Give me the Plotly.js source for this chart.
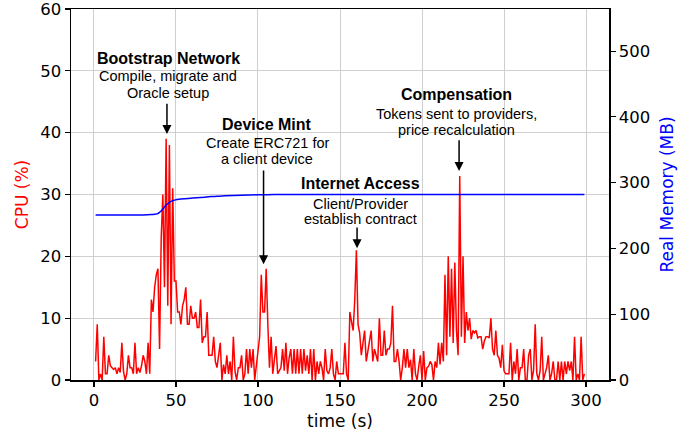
<!DOCTYPE html>
<html><head><meta charset="utf-8">
<script src="https://cdn.plot.ly/plotly-3.0.1.min.js"></script>
<style>html,body{margin:0;padding:0;background:#fff;} #chart{width:699px;height:436px;}</style>
</head><body><div id="chart"></div>
<script>
// CPU usage sampled every second starting at t = 1 s
const cpuStart = 1;
const cpuStep = 1;
const cpuPercent = [
  3, 9, 0, 1, 0, 7, 1, 1, 4, 2.3,
  2, 1.7, 2, 1, 2, 1.2, 6, 1.4, 0, 1,
  4, 2, 2, 1, 6, 1, 2, 1.2, 2.3, 4,
  3, 1, 6, 1, 13, 11, 15, 17, 18, 5,
  23, 30, 15, 39, 12, 38, 9, 31, 16, 16,
  11, 11, 9, 12, 13, 15, 9, 9, 12, 10,
  10, 11, 8.5, 8.5, 13, 6, 7, 7, 11, 4,
  4, 4, 7, 3, 2, 4, 6, 0, 2.5, 1,
  4, 1, 3, 0, 7, 1.4, 0, 2, 2, 4,
  0, 1, 5, 1, 5, 2, 5, 0, 2.5, 4.7,
  7, 17, 11, 11, 18, 9, 2, 7, 1, 3.3,
  5.5, 1, 1.5, 2, 5, 1.5, 6, 1, 3.6, 5,
  1, 5, 1, 5, 1, 5, 1, 5, 1.5, 4,
  1, 5, 0, 5, 0, 3, 1, 3, 2, 0,
  5, 1.5, 1, 2, 5, 1, 0, 3, 1, 1,
  1, 1, 6, 1, 0, 11, 9.5, 8, 13, 21,
  9, 7.6, 4, 6, 8, 3, 4.7, 7, 8, 3,
  5, 4, 3, 10, 4, 4, 8, 4, 5, 5,
  6, 12, 3, 3, 5, 3, 0, 2, 5, 2,
  5, 2, 3.3, 0, 5, 1, 0, 2.2, 4, 0,
  4.7, 0, 2, 2.2, 3, 2.5, 0, 3, 2, 6,
  2.5, 6, 3, 17, 4, 20, 7, 18, 6, 19,
  8, 4, 33, 7, 20, 6, 11, 8, 10, 6.6,
  8, 7.6, 8, 6.8, 7, 7, 5, 6.3, 7, 7,
  6.8, 10, 5, 4, 8, 4, 3.5, 2, 5.7, 1.5,
  1, 1, 1, 6, 0, 3, 1, 5, 0, 2,
  2, 5, 0, 0, 4, 5, 0, 1.5, 9, 1,
  0, 1.5, 7, 0, 1, 2, 4, 0, 1, 3,
  0, 0, 3, 0, 3, 0, 3, 1, 3, 1.5,
  3, 0, 7, 0, 1, 0, 7, 0, 1
];

// Real memory (MB)
const memTime = [1, 10, 20, 30, 35, 37, 39, 40, 41, 42, 43, 44, 45, 46, 47, 48, 50, 55, 60, 65, 70, 75, 80, 90, 100, 110, 120, 150, 200, 250, 299];
const memMB   = [251, 251, 251, 251, 251.5, 252, 253, 255, 257, 260, 263, 266, 268, 270, 271.5, 272.5, 274, 275.5, 276.5, 277.5, 278.5, 279.5, 280, 281, 281.5, 282, 282, 282, 282, 282, 282];

const xTicks = [0, 50, 100, 150, 200, 250, 300];
const cpuTicks = [0, 10, 20, 30, 40, 50, 60];
const memTicks = [0, 100, 200, 300, 400, 500];

// Event labels
const eventTitles = ['Bootstrap Network', 'Device Mint', 'Internet Access', 'Compensation'];
const eventLines = [
  ['Compile, migrate and', 'Oracle setup'],
  ['Create ERC721 for', 'a client device'],
  ['Client/Provider', 'establish contract'],
  ['Tokens sent to providers,', 'price recalculation']
];

// layout placement of event labels (data coords)
const eventPlace = [
  {x: 45.3, ty: 52.0, ly: [49.2, 46.45], ax: 44.5, tip: 39.8, tail: 45.0},
  {x: 105.7, ty: 41.3, ly: [38.4, 35.8], ax: 103.4, tip: 18.7, tail: 34.2},
  {x: 162.4, ty: 31.7, ly: [28.5, 26.0], ax: 160.4, tip: 21.3, tail: 25.0},
  {x: 221.3, ty: 46.2, ly: [43.0, 40.5], ax: 222.6, tip: 33.8, tail: 39.1}
];

const annFont = 'Liberation Sans, Arial, Helvetica, sans-serif';
const annotations = [];
eventTitles.forEach((title, i) => {
  const p = eventPlace[i];
  annotations.push({x: p.x, y: p.ty, xref: 'x', yref: 'y', text: '<b>' + title + '</b>', showarrow: false,
    xanchor: 'center', yanchor: 'middle', font: {family: annFont, size: 16, color: '#000'}});
  eventLines[i].forEach((ln, j) => {
    annotations.push({x: p.x, y: p.ly[j], xref: 'x', yref: 'y', text: ln, showarrow: false,
      xanchor: 'center', yanchor: 'middle', font: {family: annFont, size: 14.5, color: '#000'}});
  });
  annotations.push({x: p.ax, y: p.tip, ax: p.ax, ay: p.tail, xref: 'x', yref: 'y', axref: 'x', ayref: 'y',
    text: ' ', font: {size: 1}, showarrow: true, arrowhead: 2, arrowsize: 1.2, arrowwidth: 1.5,
    arrowcolor: '#000', standoff: 0, startstandoff: 0});
});

const traces = [
  {type: 'scatter', mode: 'lines', x0: cpuStart, dx: cpuStep, y: cpuPercent, yaxis: 'y',
   line: {color: '#ff0000', width: 1.5}, hoverinfo: 'skip'},
  {type: 'scatter', mode: 'lines', x: memTime, y: memMB, yaxis: 'y2',
   line: {color: '#0000ff', width: 1.5, shape: 'spline', smoothing: 0.6}, hoverinfo: 'skip'}
];

const axisCommon = {
  ticks: 'outside', ticklen: 5, tickwidth: 1.2, tickcolor: '#000',
  showline: true, linecolor: '#000', linewidth: 1.5, zeroline: false,
  ticklabeloverflow: 'allow',
  tickfont: {family: 'DejaVu Sans', size: 16.5, color: '#000'}, automargin: false
};

const layout = {
  width: 699, height: 436,
  margin: {l: 71, r: 90, t: 9, b: 56},
  paper_bgcolor: '#fff', plot_bgcolor: '#fff', showlegend: false,
  font: {family: 'DejaVu Sans', size: 17, color: '#000'},
  xaxis: Object.assign({}, axisCommon, {
    range: [-14, 314], tickmode: 'array', tickvals: xTicks, ticktext: xTicks.map(String),
    showgrid: true, gridcolor: '#cfcfcf', gridwidth: 1, mirror: true,
    title: {text: 'time (s)', standoff: 6, font: {family: 'DejaVu Sans', size: 17, color: '#000'}}
  }),
  yaxis: Object.assign({}, axisCommon, {
    range: [0, 60], tickmode: 'array', tickvals: cpuTicks, ticktext: cpuTicks.map(String),
    showgrid: true, gridcolor: '#cfcfcf', gridwidth: 1, mirror: true,
    title: {text: 'CPU (%)', standoff: 7, font: {family: 'DejaVu Sans', size: 17, color: '#ff0000'}}
  }),
  yaxis2: Object.assign({}, axisCommon, {
    range: [0, 564], overlaying: 'y', side: 'right', tickmode: 'array', tickvals: memTicks, ticktext: memTicks.map(String),
    showgrid: false,
    title: {text: 'Real Memory (MB)', standoff: 12, font: {family: 'DejaVu Sans', size: 17, color: '#0000ff'}}
  }),
  annotations: annotations
};

Plotly.newPlot('chart', traces, layout, {displayModeBar: false, staticPlot: true});
</script>
</body></html>
